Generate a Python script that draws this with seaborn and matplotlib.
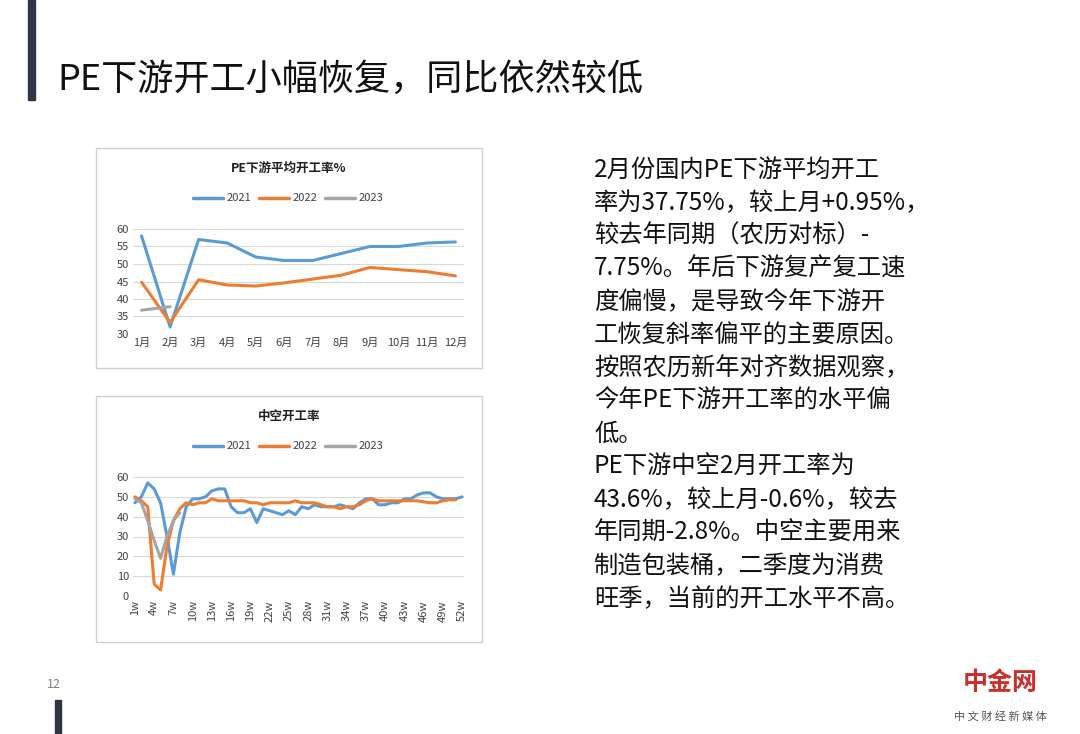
import numpy as np
import pandas as pd
import matplotlib
matplotlib.use("Agg")
import matplotlib.pyplot as plt
from matplotlib.patches import Rectangle
import seaborn as sns

sns.set_style("white")
plt.rcParams["font.family"] = ["Noto Sans CJK SC", "DejaVu Sans"]

# ── data ───────────────────────────────────────────────────────────────────
months = ["1月", "2月", "3月", "4月", "5月", "6月", "7月", "8月", "9月", "10月", "11月", "12月"]
pe_2021 = [58, 32, 57, 56, 52, 51, 51, 53, 55, 55, 56, 56.3]
pe_2022 = [44.8, 33.3, 45.5, 44, 43.7, 44.6, 45.7, 46.8, 49, 48.4, 47.8, 46.6]
pe_2023 = [36.8, 37.8]

weeks = list(range(1, 53))
hollow_2021 = [47, 50, 57, 54, 47, 30, 11, 32, 45, 49, 49, 50, 53, 54, 54, 45, 42, 42, 44, 37,
               44, 43, 42, 41, 43, 41, 45, 44, 46, 45, 45, 45, 46, 45, 44, 47, 49, 49, 46, 46,
               47, 47, 49, 49, 51, 52, 52, 50, 49, 49, 49, 50]
hollow_2022 = [50, 48, 45, 6, 3, 25, 38, 44, 47, 46, 47, 47, 49, 48, 48, 48, 48, 48, 47, 47,
               46, 47, 47, 47, 47, 48, 47, 47, 47, 46, 45, 45, 44, 45, 45, 46, 48, 49, 48, 48,
               48, 48, 48, 48, 48, 47.5, 47, 47, 48, 48.5, 48.5]
hollow_2023 = [49, 47, 38, 28, 19, 30, 38, 42]

years = ["2021", "2022", "2023"]
palette = {"2021": "#5B9BD5", "2022": "#ED7D31", "2023": "#A5A5A5"}


def long_form(xs, series):
    rows = []
    for yr, vals in zip(years, series):
        for x, v in zip(xs, vals):
            rows.append({"x": x, "year": yr, "v": v})
    return pd.DataFrame(rows)


fig = plt.figure(figsize=(10.8, 7.34), dpi=100)
W, H = 1080, 734


def px_axes(x0, y0, x1, y1):
    return fig.add_axes([x0 / W, 1 - y1 / H, (x1 - x0) / W, (y1 - y0) / H])


def box(x0, y0, x1, y1):
    fig.patches.append(Rectangle((x0 / W, 1 - y1 / H), (x1 - x0) / W, (y1 - y0) / H,
                                 transform=fig.transFigure, fill=False,
                                 edgecolor="#D0D0D0", linewidth=1))


def style_ax(ax, title, ytop_px, box_x):
    for s in ax.spines.values():
        s.set_visible(False)
    ax.grid(axis="y", color="#D9D9D9", linewidth=0.8)
    ax.tick_params(axis="both", length=0, labelsize=8, colors="#404040", pad=3)
    ax.set_xlabel("")
    ax.set_ylabel("")
    ax.legend_.remove()
    fig.text((box_x + 193) / W, 1 - ytop_px / H, title, ha="center", va="center",
             fontsize=9, fontweight="bold", color="#202020")
    # legend row
    ly = 1 - (ytop_px + 30) / H
    lx = box_x + 97
    for yr in years:
        fig.add_artist(plt.Line2D([lx / W, (lx + 30) / W], [ly, ly], color=palette[yr],
                                  linewidth=2.5, transform=fig.transFigure))
        fig.text((lx + 34) / W, ly, yr, va="center", fontsize=8, color="#404040")
        lx += 66


# top chart
box(96, 148, 482, 368)
ax1 = px_axes(133, 229, 464, 334)
df1 = long_form(range(12), [pe_2021, pe_2022, pe_2023])
sns.lineplot(data=df1, x="x", y="v", hue="year", palette=palette, linewidth=2.2, ax=ax1)
ax1.set_ylim(30, 60)
ax1.set_yticks(range(30, 61, 5))
ax1.set_xlim(-0.3, 11.3)
ax1.set_xticks(range(12))
ax1.set_xticklabels(months)
style_ax(ax1, "PE下游平均开工率%", 168, 96)

# bottom chart
box(96, 396, 482, 642)
ax2 = px_axes(133, 477, 464, 596)
df2 = long_form(weeks, [hollow_2021, hollow_2022, hollow_2023])
sns.lineplot(data=df2, x="x", y="v", hue="year", palette=palette, linewidth=2.2, ax=ax2)
ax2.set_ylim(0, 60)
ax2.set_yticks(range(0, 61, 10))
ax2.set_xlim(0.7, 52.3)
ax2.set_xticks(range(1, 53, 3))
ax2.set_xticklabels([f"{w}w" for w in range(1, 53, 3)], rotation=90)
style_ax(ax2, "中空开工率", 416, 96)

# slide decorations
fig.patches.append(Rectangle((28 / W, 1 - 100 / H), 7 / W, 100 / H, transform=fig.transFigure,
                             color="#2F3545"))
fig.patches.append(Rectangle((55 / W, 0), 6 / W, 34 / H, transform=fig.transFigure,
                             color="#2F3545"))
fig.text(57 / W, 1 - 80 / H, "PE下游开工小幅恢复，同比依然较低", fontsize=26, va="center",
         fontweight="medium", color="#111111")
fig.text(47 / W, 1 - 685 / H, "12", fontsize=9, color="#808080", va="center")

body = ["2月份国内PE下游平均开工", "率为37.75%，较上月+0.95%，", "较去年同期（农历对标）-",
        "7.75%。年后下游复产复工速", "度偏慢，是导致今年下游开", "工恢复斜率偏平的主要原因。",
        "按照农历新年对齐数据观察，", "今年PE下游开工率的水平偏", "低。",
        "PE下游中空2月开工率为", "43.6%，较上月-0.6%，较去", "年同期-2.8%。中空主要用来",
        "制造包装桶，二季度为消费", "旺季，当前的开工水平不高。"]
for i, line in enumerate(body):
    fig.text(594 / W, 1 - (170 + i * 33) / H, line, fontsize=17.5, va="center",
             color="#111111")

fig.text(1000 / W, 1 - 683 / H, "中金网", fontsize=18, fontweight="bold", color="#C9302C",
         va="center", ha="center")
fig.text(1000 / W, 1 - 716 / H, "中 文 财 经 新 媒 体", fontsize=8, color="#555555",
         va="center", ha="center")

fig.savefig("out.png", dpi=100)
